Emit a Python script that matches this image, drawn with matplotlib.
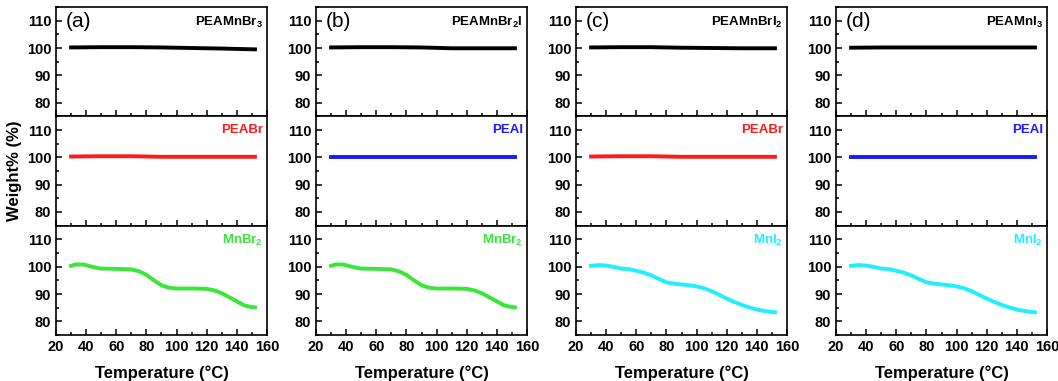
import numpy as np
import matplotlib
matplotlib.use('Agg')
import matplotlib.pyplot as plt
from matplotlib.ticker import MultipleLocator

plt.rcParams['font.family'] = ['Liberation Sans', 'DejaVu Sans']
plt.rcParams['mathtext.fontset'] = 'custom'
plt.rcParams['mathtext.rm'] = 'Liberation Sans:bold'
plt.rcParams['mathtext.bf'] = 'Liberation Sans:bold'

# --- dados ---
temp_flat = [30, 50, 70, 90, 110, 130, 152]
peamnbr3 = [100.2, 100.3, 100.3, 100.2, 100.0, 99.8, 99.5]
peamnbr2i = [100.2, 100.3, 100.3, 100.2, 99.9, 99.9, 99.9]
peamnbri2 = [100.2, 100.3, 100.3, 100.1, 100.0, 99.9, 99.9]
peamni3 = [100.1, 100.2, 100.2, 100.2, 100.2, 100.2, 100.2]
peabr = [100.3, 100.4, 100.4, 100.2, 100.2, 100.2, 100.2]
peai = [100.3, 100.3, 100.3, 100.3, 100.3, 100.3, 100.3]

temp_mnbr2 = [30, 33, 38, 45, 50, 60, 70, 75, 80, 85, 90, 95, 100, 110, 120,
              125, 130, 135, 140, 145, 150, 152]
mnbr2 = [100.3, 100.8, 100.8, 99.8, 99.3, 99.2, 99.0, 98.3, 97.0, 95.0, 93.2,
         92.3, 92.0, 92.0, 91.9, 91.3, 90.3, 88.8, 87.3, 85.8, 85.2, 85.1]

temp_mni2 = [30, 35, 40, 45, 50, 55, 60, 65, 70, 75, 80, 85, 90, 95, 100, 105,
             110, 115, 120, 125, 130, 135, 140, 145, 150, 152]
mni2 = [100.3, 100.6, 100.4, 99.9, 99.3, 99.1, 98.5, 97.8, 96.8, 95.5, 94.3,
        93.8, 93.5, 93.2, 92.8, 92.1, 91.0, 89.7, 88.3, 87.1, 86.0, 85.1, 84.3,
        83.8, 83.4, 83.3]

painel_letras = ['(a)', '(b)', '(c)', '(d)']
nomes_topo = [r'PEAMnBr$_3$', r'PEAMnBr$_2$I', r'PEAMnBrI$_2$', r'PEAMnI$_3$']
dados_topo = [peamnbr3, peamnbr2i, peamnbri2, peamni3]
nomes_meio = ['PEABr', 'PEAI', 'PEABr', 'PEAI']
dados_meio = [peabr, peai, peabr, peai]
nomes_base = [r'MnBr$_2$', r'MnBr$_2$', r'MnI$_2$', r'MnI$_2$']
temps_base = [temp_mnbr2, temp_mnbr2, temp_mni2, temp_mni2]
dados_base = [mnbr2, mnbr2, mni2, mni2]

cor_meio = {'PEABr': '#ff1a1a', 'PEAI': '#1a1aff'}
cor_base = {'Br': '#3ae63a', 'I': '#22eeff'}

W, H = 1058, 381
fig = plt.figure(figsize=(W / 100, H / 100), dpi=100)

lefts = [56, 316, 576, 836]
largura = 211
topo, base = 7, 335
altura = (base - topo) / 3


def estilo(ax, mostrar_x):
    ax.set_xlim(20, 160)
    ax.set_ylim(75, 115)
    ax.xaxis.set_major_locator(MultipleLocator(20))
    ax.xaxis.set_minor_locator(MultipleLocator(10))
    ax.yaxis.set_major_locator(MultipleLocator(10))
    ax.yaxis.set_minor_locator(MultipleLocator(5))
    ax.set_yticks([80, 90, 100, 110])
    ax.tick_params(which='both', direction='in', top=False, right=False,
                   width=1.1, labelsize=10.5)
    ax.tick_params(which='major', length=4)
    ax.tick_params(which='minor', length=2)
    for lab in ax.get_xticklabels() + ax.get_yticklabels():
        lab.set_fontweight('bold')
    if not mostrar_x:
        ax.tick_params(labelbottom=False)
    for s in ax.spines.values():
        s.set_linewidth(1.2)


for i in range(4):
    x0 = lefts[i] / W
    w = largura / W
    h = altura / H
    axs = []
    for r in range(3):
        y0 = (H - topo - (r + 1) * altura) / H
        axs.append(fig.add_axes([x0, y0, w, h]))

    ax = axs[0]
    ax.plot(temp_flat, dados_topo[i], color='black', lw=2.8)
    estilo(ax, False)
    ax.text(0.045, 0.95, painel_letras[i], transform=ax.transAxes,
            fontsize=15, va='top', ha='left')
    ax.text(0.98, 0.93, nomes_topo[i], transform=ax.transAxes,
            fontsize=9.5, fontweight='bold', va='top', ha='right')

    ax = axs[1]
    c = cor_meio[nomes_meio[i]]
    ax.plot(temp_flat, dados_meio[i], color=c, lw=2.8)
    estilo(ax, False)
    ax.text(0.98, 0.93, nomes_meio[i], transform=ax.transAxes,
            fontsize=9.5, fontweight='bold', va='top', ha='right', color=c)

    ax = axs[2]
    c = cor_base['Br'] if 'Br' in nomes_base[i] else cor_base['I']
    ax.plot(temps_base[i], dados_base[i], color=c, lw=2.8)
    estilo(ax, True)
    ax.text(0.98, 0.93, nomes_base[i], transform=ax.transAxes,
            fontsize=9.5, fontweight='bold', va='top', ha='right', color=c)
    ax.set_xlabel('Temperature (\u00b0C)', fontsize=12, fontweight='bold',
                  labelpad=8)

    if i == 0:
        axs[1].set_ylabel('Weight% (%)', fontsize=12, fontweight='bold',
                          labelpad=3)

fig.savefig('out.png', dpi=100)
